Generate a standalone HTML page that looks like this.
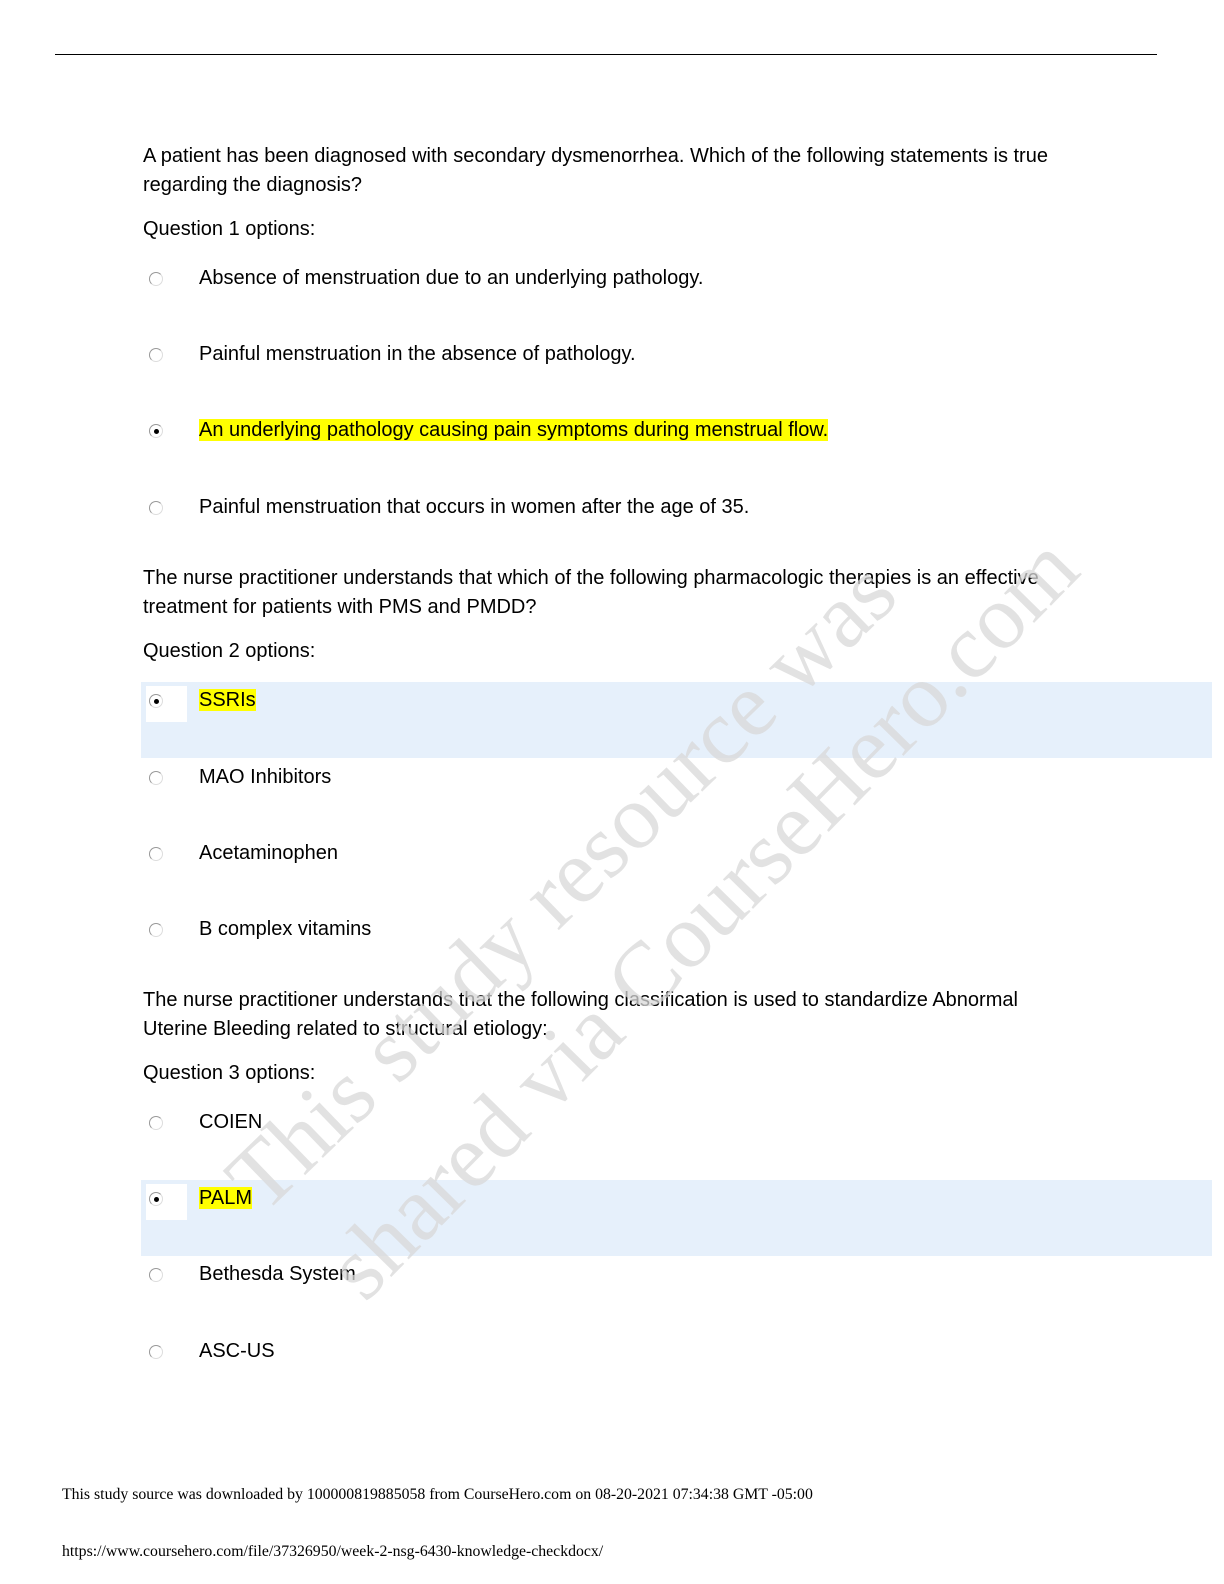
<!DOCTYPE html>
<html><head><meta charset="utf-8"><style>
body{margin:0;width:1224px;height:1584px;position:relative;background:#fff;font-family:"Liberation Sans",sans-serif;color:#000;overflow:hidden}
.t{position:absolute;left:143px;font-size:20px;line-height:24px;white-space:nowrap}
.o{left:199px}
.hl{background:#ffff00}
.bar{position:absolute;left:141px;width:1071px;height:76px;background:#e6f0fb}
.wb{position:absolute;left:146px;width:41px;height:36px;background:#fff}
.r{position:absolute;left:149px;width:12px;height:12px;border-radius:50%;border:1.5px solid #999;border-right-color:#ddd;border-bottom-color:#ddd;background:#fff}
.r.c::after{content:"";position:absolute;left:3.5px;top:3.5px;width:5px;height:5px;border-radius:50%;background:#000}
.wm{position:absolute;font-family:"Liberation Serif",serif;font-size:92px;color:#d9d9d9;opacity:.75;white-space:nowrap;transform-origin:0 0}
.f{position:absolute;left:62px;font-family:"Liberation Serif",serif;font-size:15.8px;white-space:nowrap}
</style></head><body>
<div style="position:absolute;left:55px;top:54px;width:1102px;height:1px;background:#000"></div>

<div class="bar" style="top:682px"></div>
<div class="bar" style="top:1180px"></div>
<div class="wb" style="top:686px"></div>
<div class="wb" style="top:1184px"></div>

<div class="t" style="top:144px">A patient has been diagnosed with secondary dysmenorrhea. Which of the following statements is true</div>
<div class="t" style="top:173px">regarding the diagnosis?</div>
<div class="t" style="top:217px">Question 1 options:</div>
<div class="r" style="top:272px"></div><div class="t o" style="top:266px">Absence of menstruation due to an underlying pathology.</div>
<div class="r" style="top:348px"></div><div class="t o" style="top:342px">Painful menstruation in the absence of pathology.</div>
<div class="r c" style="top:424px"></div><div class="t o" style="top:418px"><span class="hl">An underlying pathology causing pain symptoms during menstrual flow.</span></div>
<div class="r" style="top:501px"></div><div class="t o" style="top:495px">Painful menstruation that occurs in women after the age of 35.</div>

<div class="t" style="top:566px">The nurse practitioner understands that which of the following pharmacologic therapies is an effective</div>
<div class="t" style="top:595px">treatment for patients with PMS and PMDD?</div>
<div class="t" style="top:639px">Question 2 options:</div>
<div class="r c" style="top:694px"></div><div class="t o" style="top:688px"><span class="hl">SSRIs</span></div>
<div class="r" style="top:771px"></div><div class="t o" style="top:765px">MAO Inhibitors</div>
<div class="r" style="top:847px"></div><div class="t o" style="top:841px">Acetaminophen</div>
<div class="r" style="top:923px"></div><div class="t o" style="top:917px">B complex vitamins</div>

<div class="t" style="top:988px">The nurse practitioner understands that the following classification is used to standardize Abnormal</div>
<div class="t" style="top:1017px">Uterine Bleeding related to structural etiology:</div>
<div class="t" style="top:1061px">Question 3 options:</div>
<div class="r" style="top:1116px"></div><div class="t o" style="top:1110px">COIEN</div>
<div class="r c" style="top:1192px"></div><div class="t o" style="top:1186px"><span class="hl">PALM</span></div>
<div class="r" style="top:1268px"></div><div class="t o" style="top:1262px">Bethesda System</div>
<div class="r" style="top:1345px"></div><div class="t o" style="top:1339px">ASC-US</div>

<div class="wm" style="left:205px;top:1155px;transform:rotate(-44deg)">This study resource was</div>
<div class="wm" style="left:305px;top:1245px;transform:rotate(-45.5deg)">shared via CourseHero.com</div>

<div class="f" style="top:1486px">This study source was downloaded by 100000819885058 from CourseHero.com on 08-20-2021 07:34:38 GMT -05:00</div>
<div class="f" style="top:1543px">https://www.coursehero.com/file/37326950/week-2-nsg-6430-knowledge-checkdocx/</div>
</body></html>
